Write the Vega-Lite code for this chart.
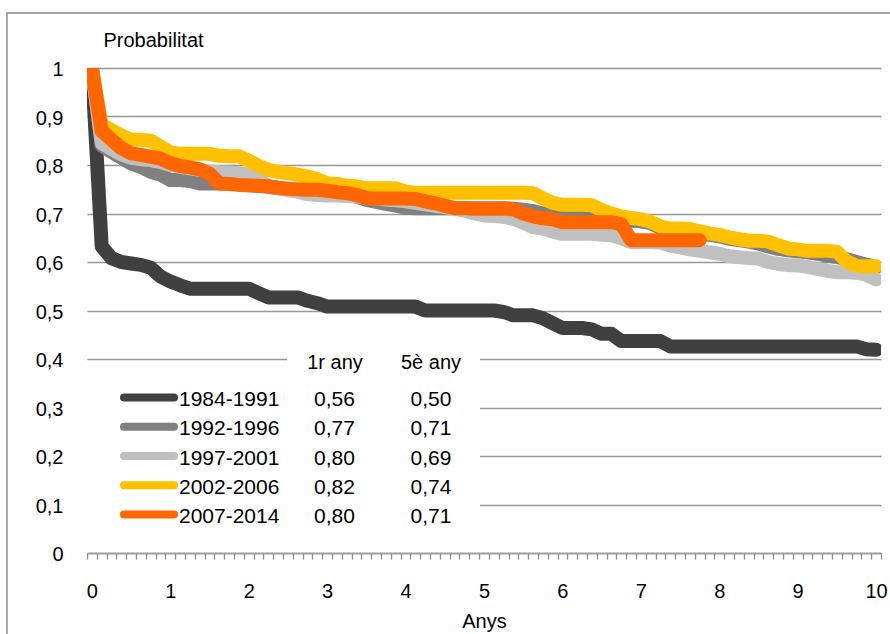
{
"$schema":"https://vega.github.io/schema/vega-lite/v6.json",
"width":794,"height":485,
"autosize":{"type":"none"},
"padding":{"left":87,"top":68,"right":9,"bottom":81},
"background":"white",
"config":{
 "font":"Liberation Sans",
 "locale":{"number":{"decimal":",","thousands":".","grouping":[3],"currency":["","€"]}},
 "view":{"stroke":null},
 "axis":{"labelColor":"#000","titleColor":"#000","labelFontSize":20,"titleFontSize":20,"titleFontWeight":"normal"}
},
"datasets":{
"taula":[
{"periode":"1984-1991","any1":0.56,"any5":0.50},
{"periode":"1992-1996","any1":0.77,"any5":0.71},
{"periode":"1997-2001","any1":0.80,"any5":0.69},
{"periode":"2002-2006","any1":0.82,"any5":0.74},
{"periode":"2007-2014","any1":0.80,"any5":0.71}
],
"corbes":[
{"periode":"1984-1991","anys":0,"prob":1},{"periode":"1984-1991","anys":0.125,"prob":0.632},{"periode":"1984-1991","anys":0.25,"prob":0.608},{"periode":"1984-1991","anys":0.375,"prob":0.6},{"periode":"1984-1991","anys":0.5,"prob":0.597},{"periode":"1984-1991","anys":0.625,"prob":0.594},{"periode":"1984-1991","anys":0.75,"prob":0.588},{"periode":"1984-1991","anys":0.875,"prob":0.57},
{"periode":"1984-1991","anys":1,"prob":0.56},{"periode":"1984-1991","anys":1.125,"prob":0.552},{"periode":"1984-1991","anys":1.25,"prob":0.545},{"periode":"1984-1991","anys":1.375,"prob":0.545},{"periode":"1984-1991","anys":1.5,"prob":0.545},{"periode":"1984-1991","anys":1.625,"prob":0.545},{"periode":"1984-1991","anys":1.75,"prob":0.545},{"periode":"1984-1991","anys":1.875,"prob":0.545},
{"periode":"1984-1991","anys":2,"prob":0.545},{"periode":"1984-1991","anys":2.125,"prob":0.536},{"periode":"1984-1991","anys":2.25,"prob":0.527},{"periode":"1984-1991","anys":2.375,"prob":0.527},{"periode":"1984-1991","anys":2.5,"prob":0.527},{"periode":"1984-1991","anys":2.625,"prob":0.527},{"periode":"1984-1991","anys":2.75,"prob":0.52},{"periode":"1984-1991","anys":2.875,"prob":0.515},
{"periode":"1984-1991","anys":3,"prob":0.508},{"periode":"1984-1991","anys":3.125,"prob":0.508},{"periode":"1984-1991","anys":3.25,"prob":0.508},{"periode":"1984-1991","anys":3.375,"prob":0.508},{"periode":"1984-1991","anys":3.5,"prob":0.508},{"periode":"1984-1991","anys":3.625,"prob":0.508},{"periode":"1984-1991","anys":3.75,"prob":0.508},{"periode":"1984-1991","anys":3.875,"prob":0.508},
{"periode":"1984-1991","anys":4,"prob":0.508},{"periode":"1984-1991","anys":4.125,"prob":0.508},{"periode":"1984-1991","anys":4.25,"prob":0.5},{"periode":"1984-1991","anys":4.375,"prob":0.5},{"periode":"1984-1991","anys":4.5,"prob":0.5},{"periode":"1984-1991","anys":4.625,"prob":0.5},{"periode":"1984-1991","anys":4.75,"prob":0.5},{"periode":"1984-1991","anys":4.875,"prob":0.5},
{"periode":"1984-1991","anys":5,"prob":0.5},{"periode":"1984-1991","anys":5.125,"prob":0.5},{"periode":"1984-1991","anys":5.25,"prob":0.497},{"periode":"1984-1991","anys":5.375,"prob":0.49},{"periode":"1984-1991","anys":5.5,"prob":0.49},{"periode":"1984-1991","anys":5.625,"prob":0.49},{"periode":"1984-1991","anys":5.75,"prob":0.484},{"periode":"1984-1991","anys":5.875,"prob":0.474},
{"periode":"1984-1991","anys":6,"prob":0.464},{"periode":"1984-1991","anys":6.125,"prob":0.464},{"periode":"1984-1991","anys":6.25,"prob":0.464},{"periode":"1984-1991","anys":6.375,"prob":0.461},{"periode":"1984-1991","anys":6.5,"prob":0.452},{"periode":"1984-1991","anys":6.625,"prob":0.452},{"periode":"1984-1991","anys":6.75,"prob":0.437},{"periode":"1984-1991","anys":6.875,"prob":0.437},
{"periode":"1984-1991","anys":7,"prob":0.437},{"periode":"1984-1991","anys":7.125,"prob":0.437},{"periode":"1984-1991","anys":7.25,"prob":0.437},{"periode":"1984-1991","anys":7.375,"prob":0.426},{"periode":"1984-1991","anys":7.5,"prob":0.426},{"periode":"1984-1991","anys":7.625,"prob":0.426},{"periode":"1984-1991","anys":7.75,"prob":0.426},{"periode":"1984-1991","anys":7.875,"prob":0.426},
{"periode":"1984-1991","anys":8,"prob":0.426},{"periode":"1984-1991","anys":8.125,"prob":0.426},{"periode":"1984-1991","anys":8.25,"prob":0.426},{"periode":"1984-1991","anys":8.375,"prob":0.426},{"periode":"1984-1991","anys":8.5,"prob":0.426},{"periode":"1984-1991","anys":8.625,"prob":0.426},{"periode":"1984-1991","anys":8.75,"prob":0.426},{"periode":"1984-1991","anys":8.875,"prob":0.426},
{"periode":"1984-1991","anys":9,"prob":0.426},{"periode":"1984-1991","anys":9.125,"prob":0.426},{"periode":"1984-1991","anys":9.25,"prob":0.426},{"periode":"1984-1991","anys":9.375,"prob":0.426},{"periode":"1984-1991","anys":9.5,"prob":0.426},{"periode":"1984-1991","anys":9.625,"prob":0.426},{"periode":"1984-1991","anys":9.75,"prob":0.426},{"periode":"1984-1991","anys":9.875,"prob":0.42},
{"periode":"1984-1991","anys":10,"prob":0.419},

{"periode":"1992-1996","anys":0,"prob":1},{"periode":"1992-1996","anys":0.125,"prob":0.84},{"periode":"1992-1996","anys":0.25,"prob":0.827},{"periode":"1992-1996","anys":0.375,"prob":0.815},{"periode":"1992-1996","anys":0.5,"prob":0.803},{"periode":"1992-1996","anys":0.625,"prob":0.796},{"periode":"1992-1996","anys":0.75,"prob":0.786},{"periode":"1992-1996","anys":0.875,"prob":0.78},
{"periode":"1992-1996","anys":1,"prob":0.769},{"periode":"1992-1996","anys":1.125,"prob":0.769},{"periode":"1992-1996","anys":1.25,"prob":0.767},{"periode":"1992-1996","anys":1.375,"prob":0.762},{"periode":"1992-1996","anys":1.5,"prob":0.762},{"periode":"1992-1996","anys":1.625,"prob":0.762},{"periode":"1992-1996","anys":1.75,"prob":0.762},{"periode":"1992-1996","anys":1.875,"prob":0.76},
{"periode":"1992-1996","anys":2,"prob":0.758},{"periode":"1992-1996","anys":2.125,"prob":0.757},{"periode":"1992-1996","anys":2.25,"prob":0.755},{"periode":"1992-1996","anys":2.375,"prob":0.752},{"periode":"1992-1996","anys":2.5,"prob":0.75},{"periode":"1992-1996","anys":2.625,"prob":0.748},{"periode":"1992-1996","anys":2.75,"prob":0.746},{"periode":"1992-1996","anys":2.875,"prob":0.744},
{"periode":"1992-1996","anys":3,"prob":0.742},{"periode":"1992-1996","anys":3.125,"prob":0.74},{"periode":"1992-1996","anys":3.25,"prob":0.738},{"periode":"1992-1996","anys":3.375,"prob":0.735},{"periode":"1992-1996","anys":3.5,"prob":0.728},{"periode":"1992-1996","anys":3.625,"prob":0.724},{"periode":"1992-1996","anys":3.75,"prob":0.72},{"periode":"1992-1996","anys":3.875,"prob":0.716},
{"periode":"1992-1996","anys":4,"prob":0.712},{"periode":"1992-1996","anys":4.125,"prob":0.711},{"periode":"1992-1996","anys":4.25,"prob":0.711},{"periode":"1992-1996","anys":4.375,"prob":0.711},{"periode":"1992-1996","anys":4.5,"prob":0.711},{"periode":"1992-1996","anys":4.625,"prob":0.711},{"periode":"1992-1996","anys":4.75,"prob":0.711},{"periode":"1992-1996","anys":4.875,"prob":0.711},
{"periode":"1992-1996","anys":5,"prob":0.711},{"periode":"1992-1996","anys":5.125,"prob":0.711},{"periode":"1992-1996","anys":5.25,"prob":0.711},{"periode":"1992-1996","anys":5.375,"prob":0.71},{"periode":"1992-1996","anys":5.5,"prob":0.708},{"periode":"1992-1996","anys":5.625,"prob":0.705},{"periode":"1992-1996","anys":5.75,"prob":0.7},{"periode":"1992-1996","anys":5.875,"prob":0.697},
{"periode":"1992-1996","anys":6,"prob":0.694},{"periode":"1992-1996","anys":6.125,"prob":0.692},{"periode":"1992-1996","anys":6.25,"prob":0.691},{"periode":"1992-1996","anys":6.375,"prob":0.69},{"periode":"1992-1996","anys":6.5,"prob":0.69},{"periode":"1992-1996","anys":6.625,"prob":0.69},{"periode":"1992-1996","anys":6.75,"prob":0.688},{"periode":"1992-1996","anys":6.875,"prob":0.685},
{"periode":"1992-1996","anys":7,"prob":0.684},{"periode":"1992-1996","anys":7.125,"prob":0.68},{"periode":"1992-1996","anys":7.25,"prob":0.67},{"periode":"1992-1996","anys":7.375,"prob":0.667},{"periode":"1992-1996","anys":7.5,"prob":0.666},{"periode":"1992-1996","anys":7.625,"prob":0.665},{"periode":"1992-1996","anys":7.75,"prob":0.66},{"periode":"1992-1996","anys":7.875,"prob":0.656},
{"periode":"1992-1996","anys":8,"prob":0.653},{"periode":"1992-1996","anys":8.125,"prob":0.648},{"periode":"1992-1996","anys":8.25,"prob":0.645},{"periode":"1992-1996","anys":8.375,"prob":0.642},{"periode":"1992-1996","anys":8.5,"prob":0.638},{"periode":"1992-1996","anys":8.625,"prob":0.632},{"periode":"1992-1996","anys":8.75,"prob":0.627},{"periode":"1992-1996","anys":8.875,"prob":0.624},
{"periode":"1992-1996","anys":9,"prob":0.622},{"periode":"1992-1996","anys":9.125,"prob":0.62},{"periode":"1992-1996","anys":9.25,"prob":0.617},{"periode":"1992-1996","anys":9.375,"prob":0.613},{"periode":"1992-1996","anys":9.5,"prob":0.61},{"periode":"1992-1996","anys":9.625,"prob":0.606},{"periode":"1992-1996","anys":9.75,"prob":0.6},{"periode":"1992-1996","anys":9.875,"prob":0.595},
{"periode":"1992-1996","anys":10,"prob":0.589},

{"periode":"1997-2001","anys":0,"prob":1},{"periode":"1997-2001","anys":0.125,"prob":0.845},{"periode":"1997-2001","anys":0.25,"prob":0.833},{"periode":"1997-2001","anys":0.375,"prob":0.822},{"periode":"1997-2001","anys":0.5,"prob":0.815},{"periode":"1997-2001","anys":0.625,"prob":0.812},{"periode":"1997-2001","anys":0.75,"prob":0.81},{"periode":"1997-2001","anys":0.875,"prob":0.806},
{"periode":"1997-2001","anys":1,"prob":0.8},{"periode":"1997-2001","anys":1.125,"prob":0.796},{"periode":"1997-2001","anys":1.25,"prob":0.793},{"periode":"1997-2001","anys":1.375,"prob":0.79},{"periode":"1997-2001","anys":1.5,"prob":0.787},{"periode":"1997-2001","anys":1.625,"prob":0.785},{"periode":"1997-2001","anys":1.75,"prob":0.784},{"periode":"1997-2001","anys":1.875,"prob":0.783},
{"periode":"1997-2001","anys":2,"prob":0.78},{"periode":"1997-2001","anys":2.125,"prob":0.77},{"periode":"1997-2001","anys":2.25,"prob":0.757},{"periode":"1997-2001","anys":2.375,"prob":0.753},{"periode":"1997-2001","anys":2.5,"prob":0.748},{"periode":"1997-2001","anys":2.625,"prob":0.745},{"periode":"1997-2001","anys":2.75,"prob":0.74},{"periode":"1997-2001","anys":2.875,"prob":0.738},
{"periode":"1997-2001","anys":3,"prob":0.737},{"periode":"1997-2001","anys":3.125,"prob":0.737},{"periode":"1997-2001","anys":3.25,"prob":0.736},{"periode":"1997-2001","anys":3.375,"prob":0.735},{"periode":"1997-2001","anys":3.5,"prob":0.733},{"periode":"1997-2001","anys":3.625,"prob":0.731},{"periode":"1997-2001","anys":3.75,"prob":0.729},{"periode":"1997-2001","anys":3.875,"prob":0.727},
{"periode":"1997-2001","anys":4,"prob":0.725},{"periode":"1997-2001","anys":4.125,"prob":0.722},{"periode":"1997-2001","anys":4.25,"prob":0.719},{"periode":"1997-2001","anys":4.375,"prob":0.716},{"periode":"1997-2001","anys":4.5,"prob":0.713},{"periode":"1997-2001","anys":4.625,"prob":0.71},{"periode":"1997-2001","anys":4.75,"prob":0.706},{"periode":"1997-2001","anys":4.875,"prob":0.7},
{"periode":"1997-2001","anys":5,"prob":0.696},{"periode":"1997-2001","anys":5.125,"prob":0.695},{"periode":"1997-2001","anys":5.25,"prob":0.693},{"periode":"1997-2001","anys":5.375,"prob":0.689},{"periode":"1997-2001","anys":5.5,"prob":0.681},{"periode":"1997-2001","anys":5.625,"prob":0.672},{"periode":"1997-2001","anys":5.75,"prob":0.669},{"periode":"1997-2001","anys":5.875,"prob":0.663},
{"periode":"1997-2001","anys":6,"prob":0.658},{"periode":"1997-2001","anys":6.125,"prob":0.658},{"periode":"1997-2001","anys":6.25,"prob":0.658},{"periode":"1997-2001","anys":6.375,"prob":0.658},{"periode":"1997-2001","anys":6.5,"prob":0.656},{"periode":"1997-2001","anys":6.625,"prob":0.655},{"periode":"1997-2001","anys":6.75,"prob":0.649},{"periode":"1997-2001","anys":6.875,"prob":0.641},
{"periode":"1997-2001","anys":7,"prob":0.641},{"periode":"1997-2001","anys":7.125,"prob":0.641},{"periode":"1997-2001","anys":7.25,"prob":0.64},{"periode":"1997-2001","anys":7.375,"prob":0.634},{"periode":"1997-2001","anys":7.5,"prob":0.63},{"periode":"1997-2001","anys":7.625,"prob":0.626},{"periode":"1997-2001","anys":7.75,"prob":0.623},{"periode":"1997-2001","anys":7.875,"prob":0.62},
{"periode":"1997-2001","anys":8,"prob":0.617},{"periode":"1997-2001","anys":8.125,"prob":0.612},{"periode":"1997-2001","anys":8.25,"prob":0.61},{"periode":"1997-2001","anys":8.375,"prob":0.608},{"periode":"1997-2001","anys":8.5,"prob":0.607},{"periode":"1997-2001","anys":8.625,"prob":0.6},{"periode":"1997-2001","anys":8.75,"prob":0.596},{"periode":"1997-2001","anys":8.875,"prob":0.594},
{"periode":"1997-2001","anys":9,"prob":0.593},{"periode":"1997-2001","anys":9.125,"prob":0.59},{"periode":"1997-2001","anys":9.25,"prob":0.586},{"periode":"1997-2001","anys":9.375,"prob":0.582},{"periode":"1997-2001","anys":9.5,"prob":0.579},{"periode":"1997-2001","anys":9.625,"prob":0.579},{"periode":"1997-2001","anys":9.75,"prob":0.578},{"periode":"1997-2001","anys":9.875,"prob":0.574},
{"periode":"1997-2001","anys":10,"prob":0.564},

{"periode":"2002-2006","anys":0,"prob":1},{"periode":"2002-2006","anys":0.125,"prob":0.882},{"periode":"2002-2006","anys":0.25,"prob":0.872},{"periode":"2002-2006","anys":0.375,"prob":0.861},{"periode":"2002-2006","anys":0.5,"prob":0.852},{"periode":"2002-2006","anys":0.625,"prob":0.852},{"periode":"2002-2006","anys":0.75,"prob":0.85},{"periode":"2002-2006","anys":0.875,"prob":0.838},
{"periode":"2002-2006","anys":1,"prob":0.826},{"periode":"2002-2006","anys":1.125,"prob":0.823},{"periode":"2002-2006","anys":1.25,"prob":0.823},{"periode":"2002-2006","anys":1.375,"prob":0.823},{"periode":"2002-2006","anys":1.5,"prob":0.823},{"periode":"2002-2006","anys":1.625,"prob":0.819},{"periode":"2002-2006","anys":1.75,"prob":0.818},{"periode":"2002-2006","anys":1.875,"prob":0.818},
{"periode":"2002-2006","anys":2,"prob":0.809},{"periode":"2002-2006","anys":2.125,"prob":0.798},{"periode":"2002-2006","anys":2.25,"prob":0.79},{"periode":"2002-2006","anys":2.375,"prob":0.786},{"periode":"2002-2006","anys":2.5,"prob":0.783},{"periode":"2002-2006","anys":2.625,"prob":0.78},{"periode":"2002-2006","anys":2.75,"prob":0.776},{"periode":"2002-2006","anys":2.875,"prob":0.771},
{"periode":"2002-2006","anys":3,"prob":0.762},{"periode":"2002-2006","anys":3.125,"prob":0.761},{"periode":"2002-2006","anys":3.25,"prob":0.757},{"periode":"2002-2006","anys":3.375,"prob":0.756},{"periode":"2002-2006","anys":3.5,"prob":0.752},{"periode":"2002-2006","anys":3.625,"prob":0.752},{"periode":"2002-2006","anys":3.75,"prob":0.752},{"periode":"2002-2006","anys":3.875,"prob":0.752},
{"periode":"2002-2006","anys":4,"prob":0.745},{"periode":"2002-2006","anys":4.125,"prob":0.743},{"periode":"2002-2006","anys":4.25,"prob":0.743},{"periode":"2002-2006","anys":4.375,"prob":0.743},{"periode":"2002-2006","anys":4.5,"prob":0.743},{"periode":"2002-2006","anys":4.625,"prob":0.743},{"periode":"2002-2006","anys":4.75,"prob":0.743},{"periode":"2002-2006","anys":4.875,"prob":0.743},
{"periode":"2002-2006","anys":5,"prob":0.743},{"periode":"2002-2006","anys":5.125,"prob":0.743},{"periode":"2002-2006","anys":5.25,"prob":0.743},{"periode":"2002-2006","anys":5.375,"prob":0.743},{"periode":"2002-2006","anys":5.5,"prob":0.743},{"periode":"2002-2006","anys":5.625,"prob":0.742},{"periode":"2002-2006","anys":5.75,"prob":0.731},{"periode":"2002-2006","anys":5.875,"prob":0.722},
{"periode":"2002-2006","anys":6,"prob":0.718},{"periode":"2002-2006","anys":6.125,"prob":0.718},{"periode":"2002-2006","anys":6.25,"prob":0.718},{"periode":"2002-2006","anys":6.375,"prob":0.717},{"periode":"2002-2006","anys":6.5,"prob":0.707},{"periode":"2002-2006","anys":6.625,"prob":0.7},{"periode":"2002-2006","anys":6.75,"prob":0.694},{"periode":"2002-2006","anys":6.875,"prob":0.691},
{"periode":"2002-2006","anys":7,"prob":0.688},{"periode":"2002-2006","anys":7.125,"prob":0.683},{"periode":"2002-2006","anys":7.25,"prob":0.673},{"periode":"2002-2006","anys":7.375,"prob":0.669},{"periode":"2002-2006","anys":7.5,"prob":0.669},{"periode":"2002-2006","anys":7.625,"prob":0.668},{"periode":"2002-2006","anys":7.75,"prob":0.663},{"periode":"2002-2006","anys":7.875,"prob":0.659},
{"periode":"2002-2006","anys":8,"prob":0.656},{"periode":"2002-2006","anys":8.125,"prob":0.651},{"periode":"2002-2006","anys":8.25,"prob":0.647},{"periode":"2002-2006","anys":8.375,"prob":0.644},{"periode":"2002-2006","anys":8.5,"prob":0.644},{"periode":"2002-2006","anys":8.625,"prob":0.642},{"periode":"2002-2006","anys":8.75,"prob":0.635},{"periode":"2002-2006","anys":8.875,"prob":0.628},
{"periode":"2002-2006","anys":9,"prob":0.626},{"periode":"2002-2006","anys":9.125,"prob":0.623},{"periode":"2002-2006","anys":9.25,"prob":0.623},{"periode":"2002-2006","anys":9.375,"prob":0.623},{"periode":"2002-2006","anys":9.5,"prob":0.621},{"periode":"2002-2006","anys":9.625,"prob":0.601},{"periode":"2002-2006","anys":9.75,"prob":0.592},{"periode":"2002-2006","anys":9.875,"prob":0.591},
{"periode":"2002-2006","anys":10,"prob":0.591},

{"periode":"2007-2014","anys":0,"prob":1},{"periode":"2007-2014","anys":0.125,"prob":0.87},{"periode":"2007-2014","anys":0.25,"prob":0.852},{"periode":"2007-2014","anys":0.375,"prob":0.835},{"periode":"2007-2014","anys":0.5,"prob":0.824},{"periode":"2007-2014","anys":0.625,"prob":0.821},{"periode":"2007-2014","anys":0.75,"prob":0.817},{"periode":"2007-2014","anys":0.875,"prob":0.813},
{"periode":"2007-2014","anys":1,"prob":0.804},{"periode":"2007-2014","anys":1.125,"prob":0.798},{"periode":"2007-2014","anys":1.25,"prob":0.795},{"periode":"2007-2014","anys":1.375,"prob":0.791},{"periode":"2007-2014","anys":1.5,"prob":0.782},{"periode":"2007-2014","anys":1.625,"prob":0.762},{"periode":"2007-2014","anys":1.75,"prob":0.761},{"periode":"2007-2014","anys":1.875,"prob":0.759},
{"periode":"2007-2014","anys":2,"prob":0.758},{"periode":"2007-2014","anys":2.125,"prob":0.757},{"periode":"2007-2014","anys":2.25,"prob":0.756},{"periode":"2007-2014","anys":2.375,"prob":0.753},{"periode":"2007-2014","anys":2.5,"prob":0.751},{"periode":"2007-2014","anys":2.625,"prob":0.75},{"periode":"2007-2014","anys":2.75,"prob":0.749},{"periode":"2007-2014","anys":2.875,"prob":0.749},
{"periode":"2007-2014","anys":3,"prob":0.747},{"periode":"2007-2014","anys":3.125,"prob":0.744},{"periode":"2007-2014","anys":3.25,"prob":0.742},{"periode":"2007-2014","anys":3.375,"prob":0.738},{"periode":"2007-2014","anys":3.5,"prob":0.732},{"periode":"2007-2014","anys":3.625,"prob":0.731},{"periode":"2007-2014","anys":3.75,"prob":0.731},{"periode":"2007-2014","anys":3.875,"prob":0.731},
{"periode":"2007-2014","anys":4,"prob":0.731},{"periode":"2007-2014","anys":4.125,"prob":0.73},{"periode":"2007-2014","anys":4.25,"prob":0.725},{"periode":"2007-2014","anys":4.375,"prob":0.721},{"periode":"2007-2014","anys":4.5,"prob":0.716},{"periode":"2007-2014","anys":4.625,"prob":0.711},{"periode":"2007-2014","anys":4.75,"prob":0.711},{"periode":"2007-2014","anys":4.875,"prob":0.71},
{"periode":"2007-2014","anys":5,"prob":0.71},{"periode":"2007-2014","anys":5.125,"prob":0.71},{"periode":"2007-2014","anys":5.25,"prob":0.71},{"periode":"2007-2014","anys":5.375,"prob":0.709},{"periode":"2007-2014","anys":5.5,"prob":0.7},{"periode":"2007-2014","anys":5.625,"prob":0.694},{"periode":"2007-2014","anys":5.75,"prob":0.69},{"periode":"2007-2014","anys":5.875,"prob":0.688},
{"periode":"2007-2014","anys":6,"prob":0.682},{"periode":"2007-2014","anys":6.125,"prob":0.682},{"periode":"2007-2014","anys":6.25,"prob":0.682},{"periode":"2007-2014","anys":6.375,"prob":0.682},{"periode":"2007-2014","anys":6.5,"prob":0.682},{"periode":"2007-2014","anys":6.625,"prob":0.682},{"periode":"2007-2014","anys":6.75,"prob":0.678},{"periode":"2007-2014","anys":6.875,"prob":0.645},
{"periode":"2007-2014","anys":7,"prob":0.645},{"periode":"2007-2014","anys":7.125,"prob":0.645},{"periode":"2007-2014","anys":7.25,"prob":0.645},{"periode":"2007-2014","anys":7.375,"prob":0.645},{"periode":"2007-2014","anys":7.5,"prob":0.645},{"periode":"2007-2014","anys":7.625,"prob":0.645},{"periode":"2007-2014","anys":7.75,"prob":0.645}
]
},
"layer":[
 {
  "layer":[
   {
    "data":{"values":[{}]},
    "mark":{"type":"rect","fill":"transparent","stroke":"#8c8c8c","strokeWidth":1.5,"clip":false},
    "encoding":{
     "x":{"datum":-1.083,"type":"quantitative","scale":{"domain":[-0.0625,10.0625],"nice":false,"zero":false}},
     "x2":{"datum":10.4},
     "y":{"datum":1.1134,"type":"quantitative","scale":{"domain":[0,1],"nice":false}},
     "y2":{"datum":-0.25}
    }
   },
   {
    "data":{"values":[{}]},
    "mark":{"type":"rect","fill":"white","stroke":null},
    "encoding":{
     "x":{"datum":-0.0625,"type":"quantitative"},
     "x2":{"datum":4.949},
     "y":{"datum":0.375,"type":"quantitative"},
     "y2":{"datum":0.03}
    }
   },
   {
    "data":{"values":[{}]},
    "mark":{"type":"rect","fill":"white","stroke":null},
    "encoding":{
     "x":{"datum":2.49,"type":"quantitative"},
     "x2":{"datum":4.949},
     "y":{"datum":0.43,"type":"quantitative"},
     "y2":{"datum":0.36}
    }
   },
   {
    "data":{"name":"corbes"},
    "mark":{"type":"line","strokeWidth":14,"strokeCap":"round","strokeJoin":"round","clip":true},
    "encoding":{
     "x":{"field":"anys","type":"quantitative",
      "scale":{"domain":[-0.0625,10.0625],"nice":false,"zero":false},
      "axis":{"orient":"bottom",
       "values":[0,1,2,3,4,5,6,7,8,9,10],
       "format":"d","labelOverlap":false,"labelFlush":false,
       "labelPadding":28,"labelBaseline":"top",
       "ticks":false,
       "domain":true,"domainColor":"#999999","domainWidth":1.5,
       "grid":false,
       "title":"Anys","titleY":68,"titleBaseline":"middle"}},
     "y":{"field":"prob","type":"quantitative",
      "scale":{"domain":[0,1],"nice":false},
      "axis":{"values":[0,0.1,0.2,0.3,0.4,0.5,0.6,0.7,0.8,0.9,1],"format":".1~f",
       "domain":false,"ticks":false,"grid":true,"gridColor":"#969696","gridWidth":1.3,
       "labelPadding":24,"labelOffset":1.5,
       "title":"Probabilitat","titleAngle":0,"titleAlign":"left","titleBaseline":"middle","titleX":16,"titleY":-28}},
     "color":{"field":"periode","type":"nominal",
      "scale":{"domain":["1984-1991","1992-1996","1997-2001","2002-2006","2007-2014"],"range":["#404040","#808080","#c0c0c0","#ffc000","#ff6600"]},
      "legend":null}
    }
   },
   {
    "data":{"values":[{}]},
    "mark":{"type":"text","text":"1r any","fontSize":20,"align":"center","baseline":"middle","color":"#000"},
    "encoding":{
     "x":{"datum":3.1,"type":"quantitative"},
     "y":{"datum":0.391,"type":"quantitative"}
    }
   },
   {
    "data":{"values":[{}]},
    "mark":{"type":"text","text":"5è any","fontSize":20,"align":"center","baseline":"middle","color":"#000"},
    "encoding":{
     "x":{"datum":4.324,"type":"quantitative"},
     "y":{"datum":0.391,"type":"quantitative"}
    }
   }
  ]
 },
 {
  "data":{"name":"taula"},
  "layer":[
   {
    "mark":{"type":"rule","strokeWidth":8,"strokeCap":"round","yOffset":-2.5},
    "encoding":{
     "x":{"datum":0.409,"type":"quantitative",
      "axis":{"orient":"bottom","tickCount":200,
       "values":[-0.0625,0.0625,0.1875,0.3125,0.4375,0.5625,0.6875,0.8125,0.9375,1.0625,1.1875,1.3125,1.4375,1.5625,1.6875,1.8125,1.9375,2.0625,2.1875,2.3125,2.4375,2.5625,2.6875,2.8125,2.9375,3.0625,3.1875,3.3125,3.4375,3.5625,3.6875,3.8125,3.9375,4.0625,4.1875,4.3125,4.4375,4.5625,4.6875,4.8125,4.9375,5.0625,5.1875,5.3125,5.4375,5.5625,5.6875,5.8125,5.9375,6.0625,6.1875,6.3125,6.4375,6.5625,6.6875,6.8125,6.9375,7.0625,7.1875,7.3125,7.4375,7.5625,7.6875,7.8125,7.9375,8.0625,8.1875,8.3125,8.4375,8.5625,8.6875,8.8125,8.9375,9.0625,9.1875,9.3125,9.4375,9.5625,9.6875,9.8125,9.9375,10.0625],
       "labels":false,"ticks":true,"tickSize":6,"tickColor":"#8c8c8c","tickWidth":1.3,"tickOpacity":1,
       "domain":false,"grid":false,"title":null}},
     "x2":{"datum":1.047},
     "y":{"field":"periode","type":"nominal","scale":{"type":"point","domain":["1984-1991","1992-1996","1997-2001","2002-2006","2007-2014"],"range":[332,449],"padding":0},"axis":null},
     "color":{"field":"periode","type":"nominal","legend":null}
    }
   },
   {
    "mark":{"type":"text","align":"left","baseline":"middle","fontSize":21,"color":"#000"},
    "encoding":{
     "x":{"datum":1.11,"type":"quantitative"},
     "y":{"field":"periode","type":"nominal","axis":null},
     "text":{"field":"periode","type":"nominal"}
    }
   },
   {
    "mark":{"type":"text","align":"center","baseline":"middle","fontSize":21,"color":"#000"},
    "encoding":{
     "x":{"datum":3.094,"type":"quantitative"},
     "y":{"field":"periode","type":"nominal","axis":null},
     "text":{"field":"any1","type":"quantitative","format":".2f"}
    }
   },
   {
    "mark":{"type":"text","align":"center","baseline":"middle","fontSize":21,"color":"#000"},
    "encoding":{
     "x":{"datum":4.324,"type":"quantitative"},
     "y":{"field":"periode","type":"nominal","axis":null},
     "text":{"field":"any5","type":"quantitative","format":".2f"}
    }
   }
  ]
 }
],
"resolve":{"scale":{"y":"independent"},"axis":{"x":"independent"}}
}
